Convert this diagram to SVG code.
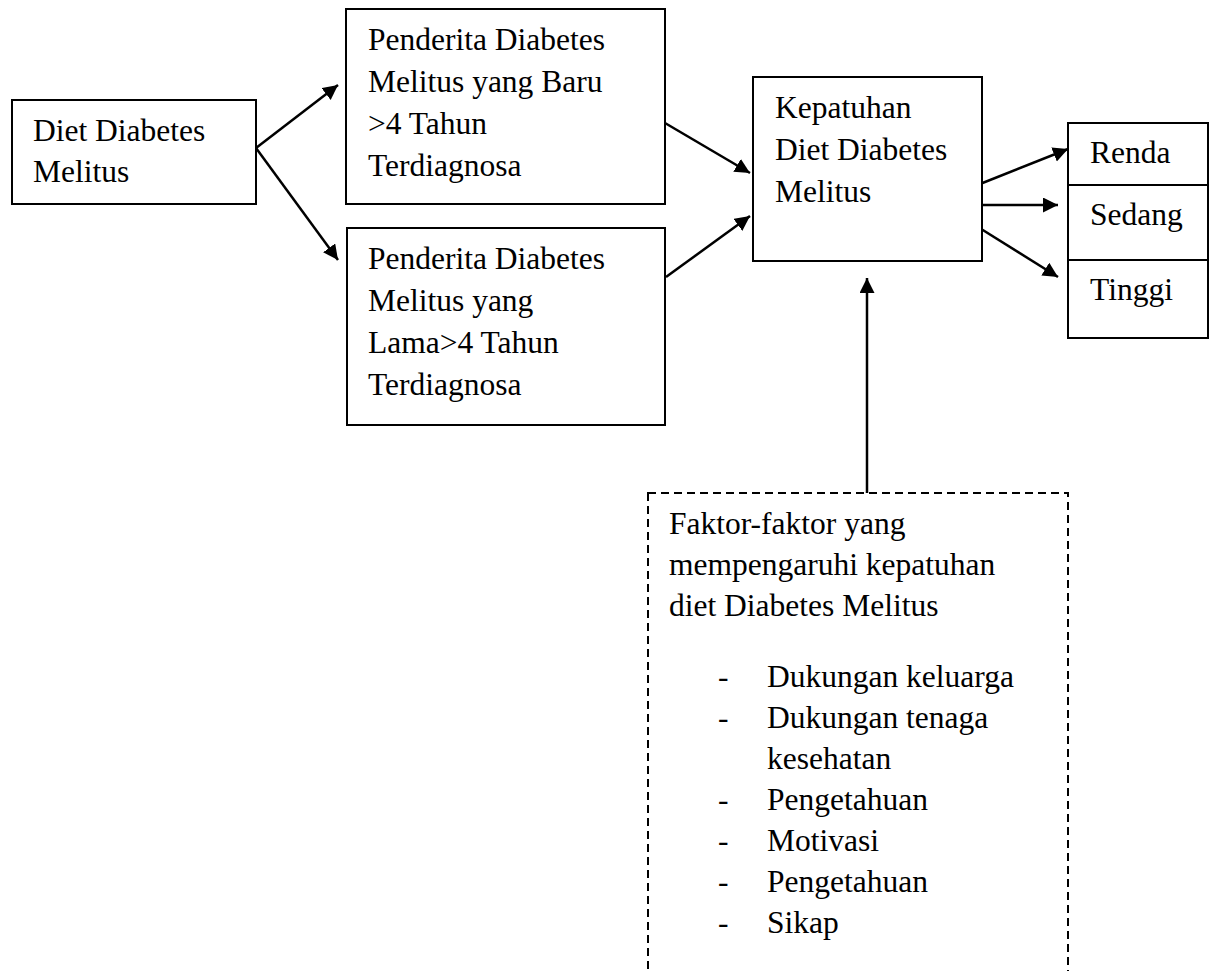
<svg xmlns="http://www.w3.org/2000/svg" width="1210" height="971" viewBox="0 0 1210 971">
<style>
.box{fill:#fff;stroke:#000;stroke-width:2}
.dash{fill:none;stroke:#000;stroke-width:2;stroke-dasharray:8 5}
.t{font-family:"Liberation Serif","Times New Roman",serif;font-size:31.5px;fill:#000}
.c{stroke:#000;stroke-width:2.5;fill:none;marker-end:url(#ah)}
</style>
<defs>
<marker id="ah" markerUnits="userSpaceOnUse" markerWidth="16" markerHeight="16" refX="15" refY="7.5" orient="auto">
<path d="M0,0 L15,7.5 L0,15 z" fill="#000"/>
</marker>
</defs>
<rect width="1210" height="971" fill="#fff"/>
<g id="connectors">
<line class="c" x1="256" y1="148" x2="338" y2="85"/>
<line class="c" x1="256" y1="148" x2="338" y2="260"/>
<line class="c" x1="665" y1="123" x2="750" y2="173"/>
<line class="c" x1="666" y1="277" x2="750" y2="216"/>
<line class="c" x1="980" y1="184" x2="1068" y2="149"/>
<line class="c" x1="982" y1="205" x2="1058" y2="205"/>
<line class="c" x1="978" y1="227" x2="1058" y2="277"/>
<line class="c" x1="867" y1="493" x2="867" y2="278"/>
</g>
<g id="node-diet">
<rect class="box" x="12" y="100" width="244" height="104"/>
<text class="t" x="33" y="141">Diet Diabetes</text>
<text class="t" x="33" y="182">Melitus</text>
</g>
<g id="node-baru">
<rect class="box" x="346" y="9" width="319" height="195"/>
<text class="t" x="368" y="50">Penderita Diabetes</text>
<text class="t" x="368" y="92">Melitus yang Baru</text>
<text class="t" x="368" y="134">&gt;4 Tahun</text>
<text class="t" x="368" y="176">Terdiagnosa</text>
</g>
<g id="node-lama">
<rect class="box" x="347" y="228" width="318" height="197"/>
<text class="t" x="368" y="269">Penderita Diabetes</text>
<text class="t" x="368" y="311">Melitus yang</text>
<text class="t" x="368" y="353">Lama&gt;4 Tahun</text>
<text class="t" x="368" y="395">Terdiagnosa</text>
</g>
<g id="node-kepatuhan">
<rect class="box" x="753" y="77" width="229" height="184"/>
<text class="t" x="775" y="118">Kepatuhan</text>
<text class="t" x="775" y="160">Diet Diabetes</text>
<text class="t" x="775" y="202">Melitus</text>
</g>
<g id="node-renda">
<rect class="box" x="1068" y="123" width="140" height="62"/>
<text class="t" x="1090" y="163">Renda</text>
</g>
<g id="node-sedang">
<rect class="box" x="1068" y="185" width="140" height="75"/>
<text class="t" x="1090" y="225">Sedang</text>
</g>
<g id="node-tinggi">
<rect class="box" x="1068" y="260" width="140" height="78"/>
<text class="t" x="1090" y="300">Tinggi</text>
</g>
<g id="node-faktor">
<rect class="dash" x="648" y="493" width="420" height="520"/>
<text class="t" x="669" y="534">Faktor-faktor yang</text>
<text class="t" x="669" y="575">mempengaruhi kepatuhan</text>
<text class="t" x="669" y="616">diet Diabetes Melitus</text>
<text class="t" x="718" y="687">-</text><text class="t" x="767" y="687">Dukungan keluarga</text>
<text class="t" x="718" y="728">-</text><text class="t" x="767" y="728">Dukungan tenaga</text>
<text class="t" x="767" y="769">kesehatan</text>
<text class="t" x="718" y="810">-</text><text class="t" x="767" y="810">Pengetahuan</text>
<text class="t" x="718" y="851">-</text><text class="t" x="767" y="851">Motivasi</text>
<text class="t" x="718" y="892">-</text><text class="t" x="767" y="892">Pengetahuan</text>
<text class="t" x="718" y="933">-</text><text class="t" x="767" y="933">Sikap</text>
</g>
</svg>
